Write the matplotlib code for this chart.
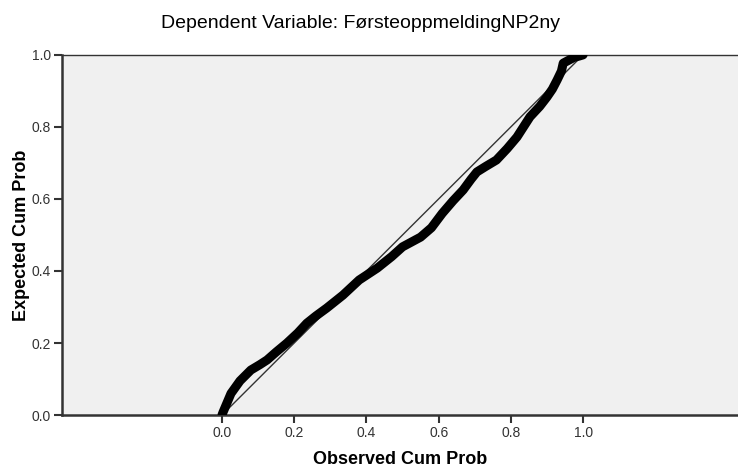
import matplotlib
matplotlib.use("Agg")
import matplotlib.pyplot as plt

plt.rcParams['font.family'] = ['Liberation Sans', 'DejaVu Sans']

# P-P plot: observed vs expected cumulative probability
observed = [0.0, 0.003, 0.025, 0.05, 0.08, 0.105, 0.125, 0.15, 0.18, 0.21, 0.235,
            0.26, 0.29, 0.335, 0.38, 0.43, 0.47, 0.50, 0.55, 0.58, 0.61, 0.64,
            0.668, 0.69, 0.706, 0.73, 0.76, 0.79, 0.817, 0.853, 0.88, 0.9,
            0.915, 0.928, 0.94, 0.945, 0.96, 0.975, 0.99, 1.0]
expected = [0.0, 0.008, 0.06, 0.095, 0.125, 0.14, 0.153, 0.175, 0.2, 0.228, 0.255,
            0.275, 0.297, 0.333, 0.375, 0.408, 0.44, 0.467, 0.494, 0.52, 0.56, 0.595,
            0.625, 0.655, 0.675, 0.69, 0.708, 0.74, 0.772, 0.828, 0.857, 0.883,
            0.905, 0.93, 0.955, 0.977, 0.985, 0.993, 0.997, 1.0]

ticks = [0.0, 0.2, 0.4, 0.6, 0.8, 1.0]
tick_labels = ['0.0', '0.2', '0.4', '0.6', '0.8', '1.0']

fig = plt.figure(figsize=(7.38, 4.69), dpi=100)
ax = fig.add_axes([0.084, 0.115, 0.916, 0.768])
ax.set_facecolor('#f0f0f0')

ax.plot([0, 1], [0, 1], color='#333333', lw=1.0, zorder=2)
ax.plot(observed, expected, color='black', lw=6.5, solid_capstyle='round',
        solid_joinstyle='round', zorder=3)

ax.set_xlim(-0.443, 1.429)
ax.set_ylim(0, 1)
ax.set_xticks(ticks)
ax.set_xticklabels(tick_labels)
ax.set_yticks(ticks)
ax.set_yticklabels(tick_labels)
ax.tick_params(direction='out', length=6, width=1.5, colors='#333333',
               labelsize=10, labelcolor='#333333', pad=2)

ax.spines['top'].set_linewidth(1.0)
ax.spines['top'].set_color('#333333')
for s in ['left', 'bottom']:
    ax.spines[s].set_linewidth(1.8)
    ax.spines[s].set_color('#333333')
ax.spines['right'].set_visible(False)

ax.set_xlabel('Observed Cum Prob', fontsize=13, fontweight='bold', labelpad=8)
ax.set_ylabel('Expected Cum Prob', fontsize=13, fontweight='bold', labelpad=1)
fig.text(0.488, 0.949, 'Dependent Variable: FørsteoppmeldingNP2ny', fontsize=14,
         ha='center', va='center', color='black')

fig.savefig('out.png', dpi=100)
